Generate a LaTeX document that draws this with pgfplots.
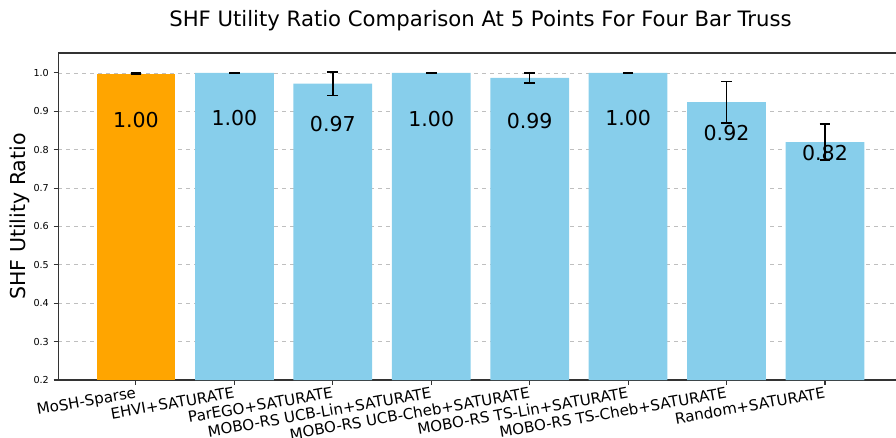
\documentclass[border=0pt]{standalone}
\usepackage{pgfplots}
\usepackage{pgfplotstable}
\pgfplotsset{compat=1.18}
\usepackage{fontspec}
\setmainfont{DejaVu Sans}
\definecolor{skyblue}{HTML}{87CEEB}
\definecolor{barorange}{HTML}{FFA500}

\pgfplotstableread{
x y e
0 0.998 0.0015
}\mosh
\pgfplotstableread{
x y e
1 1.000 0.0015
2 0.972 0.031
3 1.000 0.0015
4 0.987 0.013
5 1.000 0.0015
6 0.924 0.054
7 0.820 0.047
}\others
\pgfplotstableread{
x y lab
0 0.878 1.00
1 0.882 1.00
2 0.867 0.97
3 0.880 1.00
4 0.875 0.99
5 0.882 1.00
6 0.844 0.92
7 0.792 0.82
}\labels

\begin{document}
\begin{tikzpicture}
\begin{axis}[
  at={(0,0)}, anchor=south west,
  scale only axis, width=633.4pt, height=245.25pt,
  xmin=-0.79, xmax=7.79, ymin=0.2, ymax=1.052,
  xtick={0,1,2,3,4,5,6,7},
  xticklabels={MoSH-Sparse, EHVI+SATURATE, ParEGO+SATURATE, MOBO-RS UCB-Lin+SATURATE, MOBO-RS UCB-Cheb+SATURATE, MOBO-RS TS-Lin+SATURATE, MOBO-RS TS-Cheb+SATURATE, Random+SATURATE},
  xticklabel style={rotate=10, anchor=north east, font=\fontsize{11.3}{13}\selectfont, inner sep=1pt},
  ytick={0.2,0.3,0.4,0.5,0.6,0.7,0.8,0.9,1.0},
  yticklabel style={font=\fontsize{7.2}{9}\selectfont, /pgf/number format/.cd, fixed, fixed zerofill, precision=1},
  /pgf/number format/assume math mode=true,
  tick pos=left, tick align=outside, major tick length=3.5pt,
  tick style={black!80, line width=0.8pt},
  ymajorgrids, grid style={dashed, gray!50, line width=0.6pt},
  axis line style={black!80, line width=0.8pt},
  clip=false,
]
\addplot[ybar, bar width=0.8, bar shift=0pt, fill=barorange, draw=none,
  error bars/.cd, y dir=both, y explicit,
  error bar style={black, line width=1.1pt},
  error mark=|,
  error mark options={black, line width=1.1pt, mark size=4pt}]
  table[x=x, y=y, y error=e]{\mosh};
\addplot[ybar, bar width=0.8, bar shift=0pt, fill=skyblue, draw=none,
  error bars/.cd, y dir=both, y explicit,
  error bar style={black, line width=1.1pt},
  error mark=|,
  error mark options={black, line width=1.1pt, mark size=4pt}]
  table[x=x, y=y, y error=e]{\others};
\addplot[draw=none, mark=none, nodes near coords, point meta=explicit symbolic,
  nodes near coords style={anchor=center, font=\fontsize{15.4}{18}\selectfont, text=black}]
  table[x=x, y=y, meta=lab]{\labels};
\node[anchor=base, font=\fontsize{15.9}{18}\selectfont] at (rel axis cs:0.5,1) [yshift=19.5pt] {SHF Utility Ratio Comparison At 5 Points For Four Bar Truss};
\node[xshift=-24.2pt, rotate=90, anchor=base, font=\fontsize{15.4}{18}\selectfont] at (rel axis cs:0,0.5) {SHF Utility Ratio};
\end{axis}
\pgfresetboundingbox
\path (-43.65pt,-42.75pt) rectangle (628.35pt,285pt);
\end{tikzpicture}
\end{document}
